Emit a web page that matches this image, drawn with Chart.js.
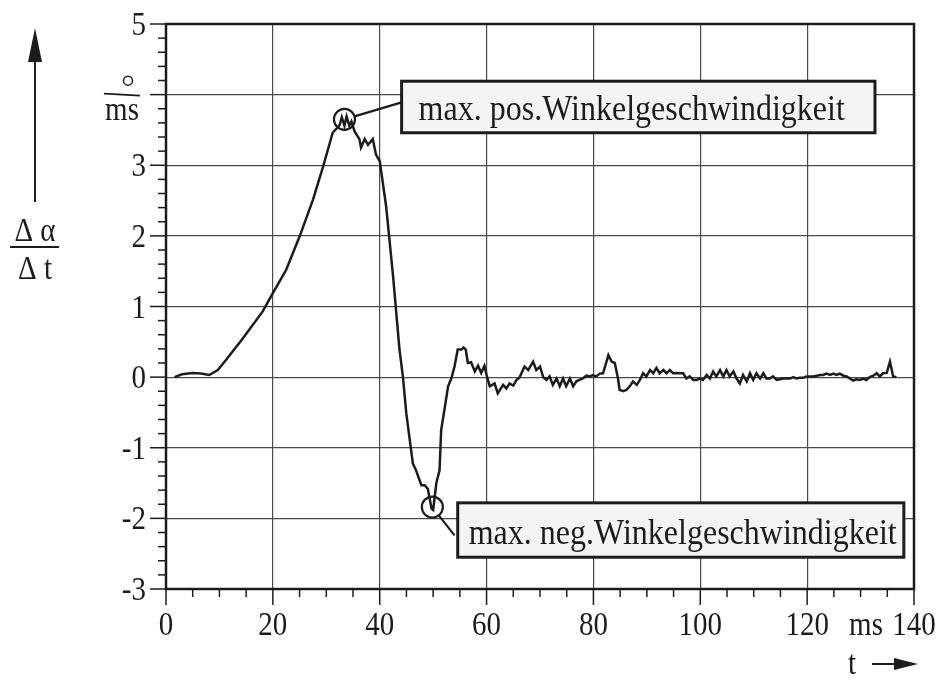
<!DOCTYPE html>
<html>
<head>
<meta charset="utf-8">
<script src="https://cdn.jsdelivr.net/npm/chart.js@4.4.1/dist/chart.umd.min.js"></script>
<style>
  body { margin: 0; background: #fff; }
  canvas { display: block; }
</style>
</head>
<body>
<canvas id="chart" width="944" height="682"></canvas>
<script>
// Zeit in ms
var tValues = [
  1.6, 3.0, 5.0, 6.5, 8.1, 9.7, 11.3, 14.4, 18.1, 20.0, 22.5, 25.0, 27.5, 29.4, 31.2,
  32.5, 32.9, 33.4, 33.8, 34.3, 34.7, 35.3, 36.2, 36.5, 37.2, 37.8, 38.7, 39.3, 40.0,
  41.2, 42.5, 43.7, 44.35, 44.97, 46.2, 46.8, 47.8, 48.4, 49.0, 49.7, 50.0, 50.6, 51.2,
  51.5, 52.2, 52.8, 53.4, 54.0, 54.6, 55.3, 55.7, 56.1, 56.5, 57.1, 57.8, 58.4, 59.0,
  59.6, 60.0, 60.6, 61.5, 62.1, 63.1, 63.7, 64.3, 65.0, 65.6, 66.2, 67.1, 67.8, 68.7,
  69.3, 70.0, 70.6, 71.2, 71.8, 72.4, 73.1, 73.7, 74.3, 74.9, 75.6, 76.2, 76.8, 77.4,
  78.0, 78.7, 79.3, 79.9, 80.5, 81.2, 81.8, 82.8, 83.4, 84.0, 84.6, 84.9, 85.6, 86.2,
  86.8, 87.4, 88.1, 88.7, 89.3, 89.9, 90.6, 91.2, 91.8, 92.4, 93.1, 93.7, 94.3, 94.9,
  95.6, 96.2, 96.8, 97.4, 98.0, 98.7, 99.3, 99.9, 100.5, 101.2, 101.8, 102.4, 103.0,
  103.7, 104.3, 104.9, 105.5, 106.2, 106.8, 107.4, 108.0, 108.7, 109.3, 109.9, 110.5,
  111.2, 111.8, 112.4, 113.0, 113.6, 114.3, 114.9, 115.5, 116.1, 116.8, 117.4, 118.0,
  118.6, 119.3, 119.9, 120.5, 121.1, 121.8, 122.4, 123.0, 123.6, 124.3, 124.9, 125.5,
  126.1, 126.8, 127.4, 128.0, 128.6, 129.2, 129.9, 130.5, 131.1, 131.7, 132.4, 133.0,
  133.6, 134.2, 134.9, 135.5, 136.1, 136.7
];
// Winkelgeschwindigkeit in °/ms
var rateValues = [
  0.0, 0.04, 0.06, 0.05, 0.03, 0.1, 0.25, 0.55, 0.93, 1.19, 1.52, 1.99, 2.51, 2.98, 3.46,
  3.57, 3.68, 3.56, 3.69, 3.56, 3.62, 3.48, 3.37, 3.25, 3.37, 3.29, 3.37, 3.15, 3.06,
  2.42, 1.43, 0.39, 0.0, -0.51, -1.22, -1.32, -1.53, -1.53, -1.58, -1.86, -1.88, -1.5, -1.32,
  -0.75, -0.42, -0.13, -0.02, 0.15, 0.39, 0.39, 0.42, 0.39, 0.2, 0.21, 0.08, 0.16, 0.06,
  0.16, 0.03, -0.13, -0.09, -0.23, -0.11, -0.16, -0.09, -0.12, -0.04, 0.0, 0.15, 0.1, 0.22,
  0.1, 0.15, 0.0, -0.04, 0.01, -0.11, -0.02, -0.13, -0.02, -0.13, -0.02, -0.13, -0.06, -0.04,
  -0.02, 0.02, 0.01, 0.03, 0.01, 0.05, 0.055, 0.31, 0.22, 0.2, -0.02, -0.18, -0.2, -0.18,
  -0.13, -0.06, -0.11, -0.04, 0.055, 0.01, 0.1, 0.055, 0.13, 0.055, 0.1, 0.055, 0.1, 0.055,
  0.06, 0.055, 0.055, -0.02, 0.01, -0.04, -0.04, -0.02, -0.04, 0.03, -0.02, 0.08, 0.01,
  0.1, 0.01, 0.1, 0.01, 0.08, -0.02, -0.09, 0.03, -0.06, 0.055, -0.04, 0.055,
  -0.02, 0.055, -0.02, -0.02, 0.01, -0.04, -0.03, -0.02, -0.02, -0.02, 0, -0.02,
  -0.01, -0.01, 0.01, 0.01, 0.01, 0.02, 0.03, 0.03, 0.05, 0.03, 0.05, 0.03,
  0.05, 0.02, 0.01, -0.02, -0.05, -0.03, -0.04, -0.02, -0.04, 0, 0.02, 0.055,
  0.01, 0.055, 0.06, 0.22, 0.01, 0
];
var xTicks = [0, 20, 40, 60, 80, 100, 120, 140];
var yTicks = [-3, -2, -1, 0, 1, 2, 3, 4, 5];

// markierte Extremwerte
var peakLabels = ['max. pos.Winkelgeschwindigkeit', 'max. neg.Winkelgeschwindigkeit'];
var peakT = [33.4, 49.85];
var peakRate = [3.65, -1.84];

var FONT = '"Liberation Serif", "DejaVu Serif", serif';
var INK = '#1c1c1c';
var STRETCH = 1.15;   // Schrift der Vorlage ist etwas schmaler/höher

// Lage der Kästen (in Achsenwerten)
var boxes = [
  { left: 44.1, right: 132.7, top: 4.19, bottom: 3.46, lineT: 44.1, lineY: 3.89, pad: 17 },
  { left: 54.6, right: 138.1, top: -1.78, bottom: -2.55, lineT: 54.0, lineY: -2.24, pad: 11 }
];

function drawText(ctx, str, x, y, size, align) {
  ctx.save();
  ctx.translate(x, y);
  ctx.scale(1, STRETCH);
  ctx.font = size + 'px ' + FONT;
  ctx.textAlign = align || 'center';
  ctx.textBaseline = 'alphabetic';
  ctx.fillText(str, 0, 0);
  ctx.restore();
}

var overlay = {
  id: 'overlay',
  afterDatasetsDraw: function(chart) {
    var ctx = chart.ctx, a = chart.chartArea;
    var xs = chart.scales.x, ys = chart.scales.y;
    ctx.save();
    ctx.fillStyle = INK;
    ctx.strokeStyle = INK;

    // Rahmen
    ctx.lineWidth = 2.5;
    ctx.strokeRect(a.left, a.top, a.right - a.left, a.bottom - a.top);

    // Teilstriche
    ctx.lineWidth = 1.5;
    for (var i = 0; i <= 40; i++) {
      var py = ys.getPixelForValue(-3 + i * 0.2);
      var len = (i % 5 === 0) ? 16 : 8;
      ctx.beginPath(); ctx.moveTo(a.left - len, py); ctx.lineTo(a.left, py); ctx.stroke();
    }
    for (var j = 0; j <= 28; j++) {
      var px = xs.getPixelForValue(j * 5);
      var l2 = (j % 4 === 0) ? 16 : 8;
      ctx.beginPath(); ctx.moveTo(px, a.bottom); ctx.lineTo(px, a.bottom + l2); ctx.stroke();
    }

    // Skalenwerte
    xTicks.forEach(function(v) {
      drawText(ctx, String(v), xs.getPixelForValue(v), 635, 29, 'center');
    });
    yTicks.forEach(function(v) {
      if (v === 4) return;
      drawText(ctx, String(v), 146, ys.getPixelForValue(v) + 11, 29, 'right');
    });

    // Kreise, Verbindungslinien und Kästen
    for (var k = 0; k < peakLabels.length; k++) {
      var cx = xs.getPixelForValue(peakT[k]);
      var cy = ys.getPixelForValue(peakRate[k]);
      var r = 10.5;
      ctx.lineWidth = 2.2;
      ctx.beginPath(); ctx.arc(cx, cy, r, 0, Math.PI * 2); ctx.stroke();

      var b = boxes[k];
      var ex = xs.getPixelForValue(b.lineT), ey = ys.getPixelForValue(b.lineY);
      var d = Math.hypot(ex - cx, ey - cy);
      ctx.beginPath();
      ctx.moveTo(cx + (ex - cx) / d * r, cy + (ey - cy) / d * r);
      ctx.lineTo(ex, ey);
      ctx.stroke();

      var bl = xs.getPixelForValue(b.left), br = xs.getPixelForValue(b.right);
      var bt = ys.getPixelForValue(b.top), bb = ys.getPixelForValue(b.bottom);
      ctx.fillStyle = '#f4f4f4';
      ctx.fillRect(bl, bt, br - bl, bb - bt);
      ctx.lineWidth = 3;
      ctx.strokeRect(bl, bt, br - bl, bb - bt);
      ctx.fillStyle = INK;
      drawText(ctx, peakLabels[k], bl + b.pad, bb - 13, 32, 'left');
    }

    // Einheit an der y-Achse
    var y4 = ys.getPixelForValue(4);
    ctx.lineWidth = 2;
    ctx.beginPath(); ctx.moveTo(104, y4 - 1); ctx.lineTo(140, y4 + 1); ctx.stroke();
    ctx.lineWidth = 1.5;
    ctx.beginPath(); ctx.arc(128, y4 - 14, 4.5, 0, Math.PI * 2); ctx.stroke();
    drawText(ctx, 'ms', 122, y4 + 25, 29, 'center');

    // Einheit an der x-Achse
    drawText(ctx, 'ms', 866, 635, 29, 'center');

    // Achsenbeschriftung links
    drawText(ctx, '\u0394 \u03b1', 35, 241, 29, 'center');
    drawText(ctx, '\u0394 t', 35, 279, 29, 'center');
    ctx.lineWidth = 2;
    ctx.beginPath(); ctx.moveTo(10, 247); ctx.lineTo(59, 247); ctx.stroke();
    ctx.beginPath(); ctx.moveTo(35, 202); ctx.lineTo(35, 60); ctx.stroke();
    ctx.beginPath(); ctx.moveTo(35, 28); ctx.lineTo(28, 62); ctx.lineTo(42, 62); ctx.closePath(); ctx.fill();

    // Achsenbeschriftung unten
    drawText(ctx, 't', 852, 674, 29, 'center');
    ctx.beginPath(); ctx.moveTo(872, 664); ctx.lineTo(896, 664); ctx.stroke();
    ctx.beginPath(); ctx.moveTo(918, 664); ctx.lineTo(894, 658); ctx.lineTo(894, 670); ctx.closePath(); ctx.fill();

    ctx.restore();
  }
};

var points = tValues.map(function(t, i) { return { x: t, y: rateValues[i] }; });

new Chart(document.getElementById('chart').getContext('2d'), {
  type: 'scatter',
  data: {
    datasets: [{
      data: points,
      showLine: true,
      borderColor: INK,
      borderWidth: 2.5,
      pointRadius: 0,
      tension: 0
    }]
  },
  options: {
    responsive: false,
    animation: false,
    layout: { padding: { top: 24, right: 30, left: 0, bottom: 0 } },
    plugins: { legend: { display: false }, tooltip: { enabled: false } },
    scales: {
      x: {
        type: 'linear',
        min: 0, max: 140,
        afterBuildTicks: function(s) { s.ticks = xTicks.map(function(v) { return { value: v }; }); },
        afterFit: function(s) { s.height = 93; },
        grid: { color: '#4a4a4a', lineWidth: 1.2, drawTicks: false },
        border: { display: false },
        ticks: { display: false }
      },
      y: {
        type: 'linear',
        min: -3, max: 5,
        afterBuildTicks: function(s) { s.ticks = yTicks.map(function(v) { return { value: v }; }); },
        afterFit: function(s) { s.width = 166; },
        grid: { color: '#4a4a4a', lineWidth: 1.2, drawTicks: false },
        border: { display: false },
        ticks: { display: false }
      }
    }
  },
  plugins: [overlay]
});
</script>
</body>
</html>
